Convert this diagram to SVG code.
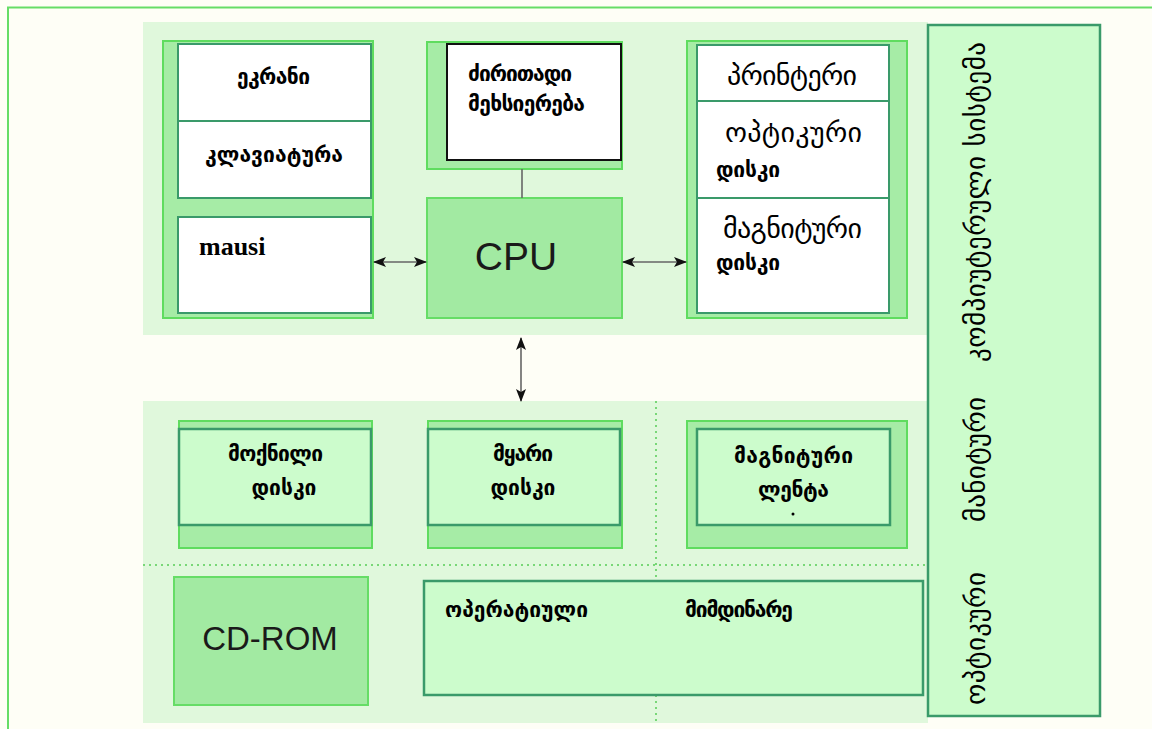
<svg xmlns="http://www.w3.org/2000/svg" width="1152" height="729" viewBox="0 0 1152 729">
  <style>
    .ka { font-family: "DejaVu Sans", "Noto Sans", sans-serif; fill: #000; }
    .b { font-weight: bold; font-size: 21px; }
    .n { font-weight: normal; font-size: 28px; }
    .sm { font-weight: bold; font-size: 21px; }
    .v { font-weight: normal; font-size: 27px; }
    .lat { font-family: "Liberation Sans", Arial, sans-serif; fill: #1a1a1a; }
    .panel { fill: #e0f8dc; }
    .holder { fill: #a6eca6; stroke: #5fdc5f; stroke-width: 2; }
    .white { fill: #ffffff; stroke: #3a9a6a; stroke-width: 2; }
    .pale { fill: #ccfccc; stroke: #3a9a6a; stroke-width: 2.5; }
    .solid { fill: #a2eaa2; stroke: #66dd66; stroke-width: 2; }
    .dots { stroke: #55cc55; stroke-width: 1.5; stroke-dasharray: 2 4; fill: none; }
    .link { stroke: #666; stroke-width: 1.6; fill: none; }
  </style>
  <defs>
    <marker id="tip" viewBox="0 0 13 10" refX="12" refY="5" markerWidth="13" markerHeight="10" markerUnits="userSpaceOnUse" orient="auto-start-reverse">
      <path d="M0,0 L13,5 L0,10 L3,5 Z" fill="#111"/>
    </marker>
  </defs>

  <!-- page background and frame -->
  <rect x="0" y="0" width="1152" height="729" fill="#fefef6"/>
  <path d="M8,729 V7.5 H1152" fill="none" stroke="#66dd66" stroke-width="2"/>

  <!-- light panels -->
  <rect class="panel" x="143" y="22" width="785" height="313"/>
  <rect class="panel" x="143" y="401" width="785" height="322"/>
  <line class="dots" x1="143" y1="565" x2="927" y2="565"/>
  <line class="dots" x1="656" y1="401" x2="656" y2="723"/>

  <!-- input devices -->
  <g id="input-devices">
    <rect class="holder" x="163" y="41" width="210" height="277"/>
    <rect class="white" x="178" y="44" width="193" height="77"/>
    <rect class="white" x="178" y="121" width="193" height="77"/>
    <rect class="white" x="178" y="217" width="193" height="96"/>
    <text class="ka b" x="237" y="84" textLength="73">ეკრანი</text>
    <text class="ka b" x="205" y="162" textLength="138">კლავიატურა</text>
    <text x="199" y="255" font-family="'Liberation Serif', 'Times New Roman', serif" font-weight="bold" font-size="26" fill="#000">mausi</text>
  </g>

  <!-- main memory -->
  <g id="main-memory">
    <rect class="holder" x="427" y="42" width="195" height="127"/>
    <rect x="447" y="44" width="174" height="116" fill="#fff" stroke="#111" stroke-width="2"/>
    <text class="ka b" x="468" y="81" textLength="104">ძირითადი</text>
    <text class="ka b" x="468" y="111" textLength="117">მეხსიერება</text>
  </g>

  <!-- processor -->
  <g id="cpu">
    <rect class="solid" x="427" y="198" width="195" height="120"/>
    <text class="lat" x="516" y="270" text-anchor="middle" font-size="39">CPU</text>
  </g>

  <!-- output devices -->
  <g id="output-devices">
    <rect class="holder" x="687" y="41" width="220" height="277"/>
    <rect class="white" x="697" y="45" width="192" height="56"/>
    <rect class="white" x="697" y="101" width="192" height="97"/>
    <rect class="white" x="697" y="198" width="192" height="115"/>
    <text class="ka n" x="727" y="85" textLength="130">პრინტერი</text>
    <text class="ka n" x="725" y="142" textLength="137">ოპტიკური</text>
    <text class="ka sm" x="716" y="177" textLength="64">დისკი</text>
    <text class="ka n" x="723" y="238" textLength="139">მაგნიტური</text>
    <text class="ka sm" x="716" y="270" textLength="64">დისკი</text>
  </g>

  <!-- storage devices -->
  <g id="floppy-disk">
    <rect class="holder" x="179" y="421" width="193" height="127"/>
    <rect class="pale" x="179" y="429" width="192" height="96"/>
    <text class="ka b" x="228" y="461" textLength="95">მოქნილი</text>
    <text class="ka b" x="284" y="495" text-anchor="middle">დისკი</text>
  </g>

  <g id="hard-disk">
    <rect class="holder" x="428" y="421" width="194" height="127"/>
    <rect class="pale" x="428" y="429" width="192" height="96"/>
    <text class="ka b" x="493" y="461" textLength="60">მყარი</text>
    <text class="ka b" x="523" y="495" text-anchor="middle">დისკი</text>
  </g>

  <g id="magnetic-tape">
    <rect class="holder" x="687" y="421" width="220" height="127"/>
    <rect class="pale" x="697" y="429" width="193" height="96"/>
    <text class="ka b" x="734" y="463" textLength="119">მაგნიტური</text>
    <text class="ka b" x="758" y="497" textLength="71">ლენტა</text>
    <circle cx="793" cy="514" r="1.5" fill="#000"/>
  </g>

  <g id="cd-rom">
    <rect class="solid" x="174" y="577" width="194" height="128"/>
    <text class="lat" x="270" y="650" text-anchor="middle" font-size="33">CD-ROM</text>
  </g>

  <g id="memory-types">
    <rect class="pale" x="424" y="581" width="499" height="114"/>
    <text class="ka b" x="445" y="617" textLength="143">ოპერატიული</text>
    <text class="ka b" x="685" y="617" textLength="108">მიმდინარე</text>
  </g>

  <!-- side caption -->
  <g id="system-caption">
    <rect class="pale" x="928" y="25" width="172" height="691" stroke-width="2"/>
    <text class="ka v" transform="translate(985,362) rotate(-90)" textLength="320">კომპიუტერული სისტემა</text>
    <text class="ka v" transform="translate(985,522) rotate(-90)" textLength="125">მანიტური</text>
    <text class="ka v" transform="translate(985,705) rotate(-90)" textLength="133">ოპტიკური</text>
  </g>

  <!-- connectors -->
  <g id="connectors">
    <line class="link" x1="522" y1="169" x2="522" y2="198"/>
    <line class="link" x1="374" y1="262" x2="426" y2="262" marker-start="url(#tip)" marker-end="url(#tip)"/>
    <line class="link" x1="623" y1="262" x2="686" y2="262" marker-start="url(#tip)" marker-end="url(#tip)"/>
    <line class="link" x1="521" y1="338" x2="521" y2="401" marker-start="url(#tip)" marker-end="url(#tip)"/>
  </g>
</svg>
